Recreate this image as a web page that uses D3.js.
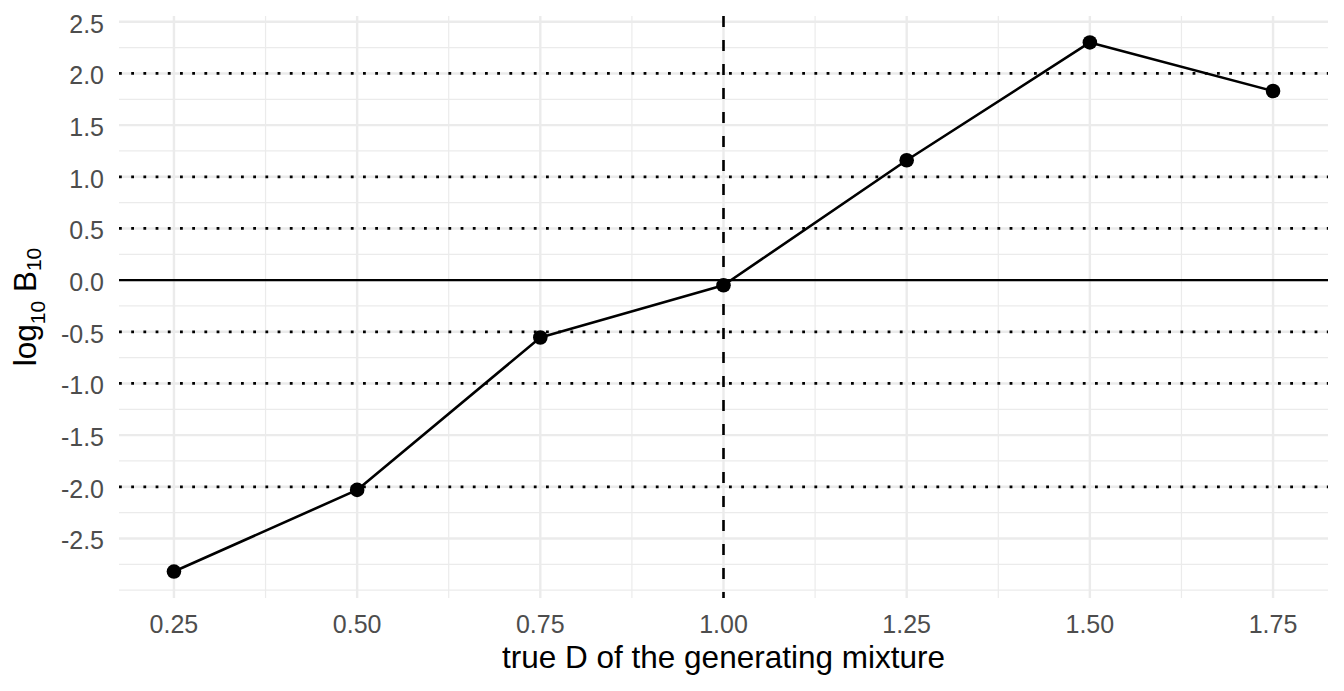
<!DOCTYPE html>
<html>
<head>
<meta charset="utf-8">
<script src="https://cdn.jsdelivr.net/npm/d3@7"></script>
<style>
  body { margin: 0; background: #fff; }
  text { font-family: "Liberation Sans", Arial, Helvetica, sans-serif; }
</style>
</head>
<body>
<svg id="chart"></svg>
<script>
// values
var trueD = [0.25, 0.50, 0.75, 1.00, 1.25, 1.50, 1.75];
var logB10 = [-2.82, -2.03, -0.555, -0.05, 1.16, 2.30, 1.83];
var xTicks = [0.25, 0.50, 0.75, 1.00, 1.25, 1.50, 1.75];
var yTicks = [-2.5, -2.0, -1.5, -1.0, -0.5, 0.0, 0.5, 1.0, 1.5, 2.0, 2.5];
var dottedRefs = [-2, -1, -0.5, 0.5, 1, 2];
var solidRef = 0;
var dashedRef = 1.0;

var svgW = 1344, svgH = 691;
var panel = {left: 119, right: 1328, top: 16, bottom: 598};

var svg = d3.select("#chart").attr("width", svgW).attr("height", svgH);

// ggplot style 5% expansion
var xExt = d3.extent(trueD);
var xPad = (xExt[1] - xExt[0]) * 0.05;
var x = d3.scaleLinear()
  .domain([xExt[0] - xPad, xExt[1] + xPad])
  .range([panel.left, panel.right]);

var yExt = d3.extent(logB10.concat(dottedRefs));
var yPad = (yExt[1] - yExt[0]) * 0.05;
var y = d3.scaleLinear()
  .domain([yExt[0] - yPad, yExt[1] + yPad])
  .range([panel.bottom, panel.top]);

var xMinor = [];
for (var i = 0; i < xTicks.length - 1; i++) xMinor.push((xTicks[i] + xTicks[i + 1]) / 2);
var yMinor = [yTicks[0] - 0.5];
for (var j = 0; j < yTicks.length - 1; j++) yMinor.push((yTicks[j] + yTicks[j + 1]) / 2);
yMinor.push(yTicks[0] - 0.25);
yMinor = yMinor.filter(function(d){ return d >= y.domain()[0] && d <= y.domain()[1]; });

// plain hyphen for negatives, like the reference
function fmt(spec) {
  var f = d3.format(spec);
  return function(d){ return f(d).replace("\u2212", "-"); };
}

var grid = svg.append("g").attr("stroke", "#ebebeb").attr("fill", "none");

// minor grid
grid.selectAll(".ymin").data(yMinor).enter().append("line")
  .attr("x1", panel.left).attr("x2", panel.right)
  .attr("y1", function(d){ return y(d); }).attr("y2", function(d){ return y(d); })
  .attr("stroke-width", 1.2);
grid.selectAll(".xmin").data(xMinor).enter().append("line")
  .attr("y1", panel.top).attr("y2", panel.bottom)
  .attr("x1", function(d){ return x(d); }).attr("x2", function(d){ return x(d); })
  .attr("stroke-width", 1.2);

// major grid
grid.selectAll(".ymaj").data(yTicks).enter().append("line")
  .attr("x1", panel.left).attr("x2", panel.right)
  .attr("y1", function(d){ return y(d); }).attr("y2", function(d){ return y(d); })
  .attr("stroke-width", 2.4);
grid.selectAll(".xmaj").data(xTicks).enter().append("line")
  .attr("y1", panel.top).attr("y2", panel.bottom)
  .attr("x1", function(d){ return x(d); }).attr("x2", function(d){ return x(d); })
  .attr("stroke-width", 2.4);

// reference lines
svg.append("line")
  .attr("x1", panel.left).attr("x2", panel.right)
  .attr("y1", y(solidRef)).attr("y2", y(solidRef))
  .attr("stroke", "#000").attr("stroke-width", 2.4);

svg.selectAll(".dotted").data(dottedRefs).enter().append("line")
  .attr("x1", panel.left).attr("x2", panel.right)
  .attr("y1", function(d){ return y(d); }).attr("y2", function(d){ return y(d); })
  .attr("stroke", "#000").attr("stroke-width", 2.8)
  .attr("stroke-dasharray", "2.8,9.4");

svg.append("line")
  .attr("x1", x(dashedRef)).attr("x2", x(dashedRef))
  .attr("y1", panel.top).attr("y2", panel.bottom)
  .attr("stroke", "#000").attr("stroke-width", 2.6)
  .attr("stroke-dasharray", "11,13");

// data
var pts = trueD.map(function(d, k){ return [d, logB10[k]]; });
svg.append("path")
  .datum(pts)
  .attr("fill", "none").attr("stroke", "#000").attr("stroke-width", 2.6)
  .attr("stroke-linejoin", "round")
  .attr("d", d3.line().x(function(d){ return x(d[0]); }).y(function(d){ return y(d[1]); }));

svg.selectAll(".pt").data(pts).enter().append("circle")
  .attr("cx", function(d){ return x(d[0]); })
  .attr("cy", function(d){ return y(d[1]); })
  .attr("r", 7.3).attr("fill", "#000");

// tick labels
svg.selectAll(".xlab").data(xTicks).enter().append("text")
  .attr("x", function(d){ return x(d); }).attr("y", 633)
  .attr("text-anchor", "middle").attr("font-size", 25).attr("fill", "#4d4d4d")
  .text(fmt(".2f"));

svg.selectAll(".ylab").data(yTicks).enter().append("text")
  .attr("x", 104).attr("y", function(d){ return y(d) + 11; })
  .attr("text-anchor", "end").attr("font-size", 25).attr("fill", "#4d4d4d")
  .text(fmt(".1f"));

// axis titles
svg.append("text")
  .attr("x", (panel.left + panel.right) / 2).attr("y", 668)
  .attr("text-anchor", "middle").attr("font-size", 31.5).attr("fill", "#000")
  .text("true D of the generating mixture");

var yt = svg.append("text")
  .attr("transform", "translate(36," + ((panel.top + panel.bottom) / 2) + ") rotate(-90)")
  .attr("text-anchor", "middle").attr("font-size", 31.5).attr("fill", "#000");
yt.append("tspan").text("log");
yt.append("tspan").attr("font-size", 21).attr("dy", 9).text("10");
yt.append("tspan").attr("dy", -9).text(" B");
yt.append("tspan").attr("font-size", 21).attr("dy", 5).text("10");
</script>
</body>
</html>
